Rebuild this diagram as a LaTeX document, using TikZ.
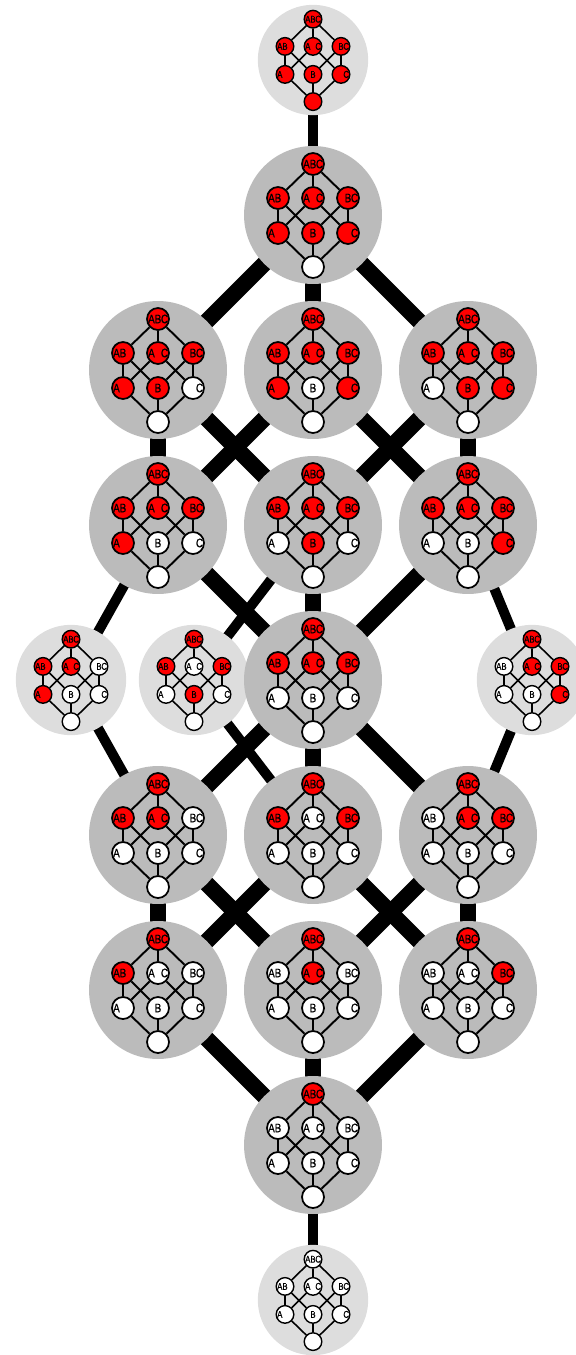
\documentclass[tikz,border=0pt]{standalone}
\usepackage{fontspec}
\newfontfamily\labfont[FakeStretch=0.8, FakeBold=0.4]{Liberation Sans}
\usetikzlibrary{backgrounds}
\definecolor{setred}{HTML}{FF0000}
\definecolor{gbig}{HTML}{BBBBBB}
\definecolor{gsmall}{HTML}{DDDDDD}
\tikzset{
  every picture/.style={x=0.02cm, y=-0.02cm},
  disc/.style={circle, fill=gbig, minimum size=2.76cm, inner sep=0pt},
  el/.style={circle, draw=black, line width=1pt, minimum size=0.44cm, inner sep=0pt,
    font=\labfont\fontsize{7}{8}\selectfont},
  mem1/.style={fill=setred},
  mem0/.style={fill=white},
  hline/.style={draw=black, line width=1.1pt},
  lvbig/.style={},
  lvsmall/.style={scale=0.8, transform shape, disc/.append style={fill=gsmall},
    el/.append style={line width=0.8pt}, hline/.append style={line width=0.9pt}},
  bigedge/.style={draw=black, line width=0.32cm},
  thinedge/.style={draw=black, line width=0.2cm},
}
\newcommand\slots[3]{\makebox[3.7pt]{#1}\makebox[3.7pt]{#2}\makebox[3.7pt]{#3}}
\newcommand\setmembers[8]{\def\mABC{#1}\def\mAB{#2}\def\mAC{#3}\def\mBC{#4}%
  \def\mA{#5}\def\mB{#6}\def\mC{#7}\def\mO{#8}}
% #1 kind, #2 name, #3 centre, #4 flags for ABC AB AC BC A B C and the empty set
\newcommand\hasse[4]{%
  \setmembers#4%
  \begin{scope}[shift={(#3)}, #1]
    \node[disc] (#2) at (0,0) {};
    \foreach \k/\px/\py/\lab in {ABC/0/-51/\slots{A}{B}{C}, AB/-35/-17/\slots{A}{B}{},
        AC/0/-17/\slots{A}{}{C}, BC/35/-17/\slots{}{B}{C}, A/-35/18/\slots{A}{}{},
        B/0/18/\slots{}{B}{}, C/35/18/\slots{}{}{C}, O/0/52/{}} {
      \edef\f{\csname m\k\endcsname}
      \node[el, mem\f] (#2-\k) at (\px,\py) {\lab};
    }
    \draw[hline] (#2-ABC) -- (#2-AB) (#2-ABC) -- (#2-AC) (#2-ABC) -- (#2-BC)
      (#2-AB) -- (#2-A) (#2-AB) -- (#2-B) (#2-AC) -- (#2-A) (#2-AC) -- (#2-C)
      (#2-BC) -- (#2-B) (#2-BC) -- (#2-C)
      (#2-A) -- (#2-O) (#2-B) -- (#2-O) (#2-C) -- (#2-O);
  \end{scope}}

\begin{document}
\begin{tikzpicture}
  \useasboundingbox (0,0) rectangle (575,1355);
  % top and first row
  \hasse{lvsmall}{top}{313,60}{11111111}
  \hasse{lvbig}{r1}{313,215}{11111110}
  % six members
  \hasse{lvbig}{r2a}{158,370}{11111100}
  \hasse{lvbig}{r2b}{313,370}{11111010}
  \hasse{lvbig}{r2c}{468,370}{11110110}
  % five members
  \hasse{lvbig}{r3a}{158,525}{11111000}
  \hasse{lvbig}{r3b}{313,525}{11110100}
  \hasse{lvbig}{r3c}{468,525}{11110010}
  % four members
  \hasse{lvsmall}{sl}{71,680}{11101000}
  \hasse{lvsmall}{sm}{194,680}{11010100}
  \hasse{lvsmall}{sr}{532,680}{10110010}
  \hasse{lvbig}{mid}{313,680}{11110000}
  % three and two members
  \hasse{lvbig}{r5a}{158,835}{11100000}
  \hasse{lvbig}{r5b}{313,835}{11010000}
  \hasse{lvbig}{r5c}{468,835}{10110000}
  \hasse{lvbig}{r6a}{158,990}{11000000}
  \hasse{lvbig}{r6b}{313,990}{10100000}
  \hasse{lvbig}{r6c}{468,990}{10010000}
  % one and none
  \hasse{lvbig}{r7}{313,1145}{10000000}
  \hasse{lvsmall}{bot}{313,1300}{00000000}
  % connectors
  \begin{scope}[on background layer]
    \foreach \a/\b in {r1/r2a, r1/r2b, r1/r2c, r2a/r3a, r2a/r3b, r2b/r3a, r2b/r3c, r2c/r3b, r2c/r3c,
        r3a/mid, r3b/mid, r3c/mid, mid/r5a, mid/r5b, mid/r5c,
        r5a/r6a, r5a/r6b, r5b/r6a, r5b/r6c, r5c/r6b, r5c/r6c, r6a/r7, r6b/r7, r6c/r7}
      \draw[bigedge] (\a.center) -- (\b.center);
    \foreach \a/\b in {top/r1, r3a/sl, r3b/sm, r3c/sr, sl/r5a, sm/r5b, sr/r5c, r7/bot}
      \draw[thinedge] (\a.center) -- (\b.center);
  \end{scope}
\end{tikzpicture}
\end{document}
